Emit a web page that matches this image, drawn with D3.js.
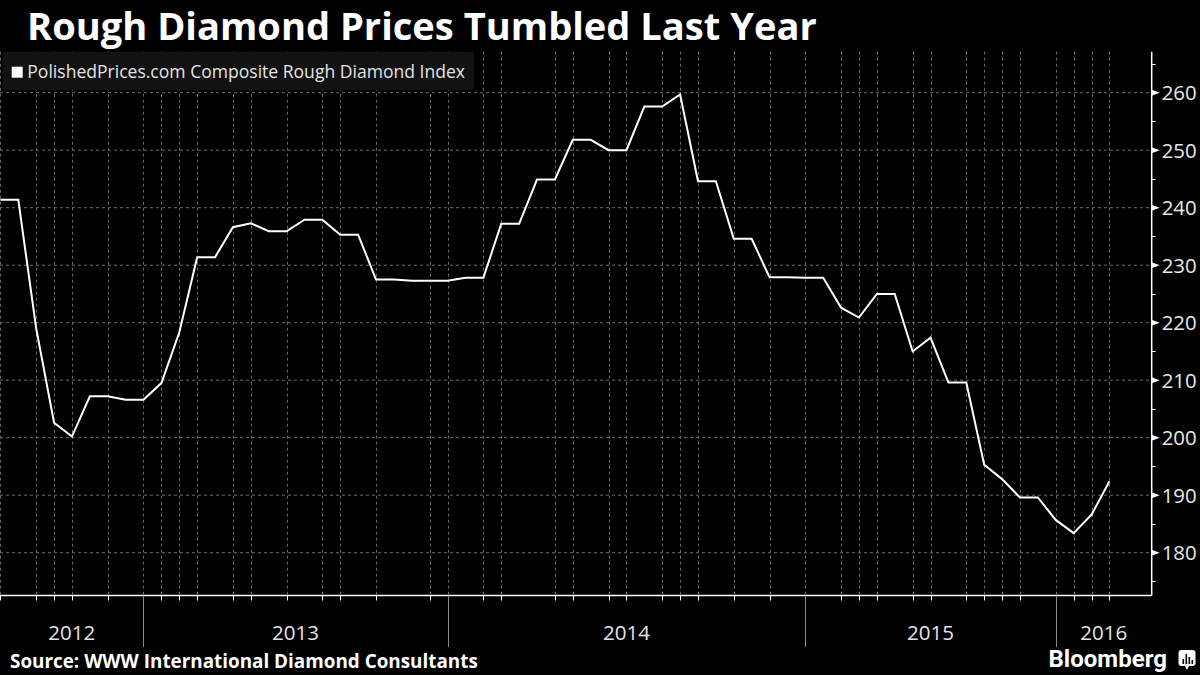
<!DOCTYPE html>
<html>
<head>
<meta charset="utf-8">
<script src="https://cdn.jsdelivr.net/npm/d3@7"></script>
<style>
  html, body { margin: 0; padding: 0; background: #000; }
  svg { display: block; }
</style>
</head>
<body>
<svg id="chart" width="1200" height="675"></svg>
<script>
// ---- Data ----
const indexValues = [
  241.4, 241.4, 219.0, 202.6, 200.2, 207.2, 207.2, 206.6,            // 2012
  206.6, 209.5, 218.3, 231.4, 231.4, 236.6, 237.3, 235.9, 235.9,
  237.9, 237.9, 235.3, 235.3, 227.5, 227.5, 227.3, 227.3,            // 2013
  227.3, 227.8, 227.8, 237.2, 237.2, 244.9, 244.9, 251.8, 251.8,
  250.0, 250.0, 257.6, 257.6, 259.7, 244.6, 244.6, 234.6, 234.6,
  227.9, 227.9,                                                      // 2014
  227.8, 227.8, 222.6, 220.9, 225.0, 225.0, 215.0, 217.4, 209.6,
  209.6, 195.3, 192.8, 189.6, 189.6,                                 // 2015
  185.7, 183.4, 186.6, 192.4                                         // 2016
];
const yearLabels = ["2012", "2013", "2014", "2015", "2016"];
const yearStartIndex = [0, 8, 25, 45, 59];
const monthTickIndex = [0, 2, 3, 4, 6, 8, 9, 10, 11, 13, 14, 16, 18, 19, 21, 24,
  25, 27, 28, 31, 32, 34, 35, 37, 38, 39, 41, 43,
  45, 47, 48, 49, 51, 52, 54, 55, 56, 57, 59, 60, 61, 62];
const yTickValues = [180, 190, 200, 210, 220, 230, 240, 250, 260];
const yMinorValues = [175, 185, 195, 205, 215, 225, 235, 245, 255, 265];
const titleText = "Rough Diamond Prices Tumbled Last Year";
const legendText = "PolishedPrices.com Composite Rough Diamond Index";
const sourceText = "Source: WWW International Diamond Consultants";

// ---- Layout ----
const plot = { left: 0, right: 1151.7, top: 51.7, bottom: 595.5 };
const svg = d3.select("#chart");
svg.append("rect").attr("width", 1200).attr("height", 675).attr("fill", "#000");

const x = d3.scalePoint()
  .domain(d3.range(indexValues.length))
  .range([0.4, 1109.4]);
const y = d3.scaleLinear().domain([180, 260]).range([552.7, 92.7]);

function fit(sel, target) {
  const fs = parseFloat(sel.attr("font-size"));
  const w = sel.node().getComputedTextLength();
  sel.attr("font-size", (fs * target / w).toFixed(2));
  return sel;
}

const sans = "'Open Sans', 'Noto Sans', 'DejaVu Sans', sans-serif";

// ---- Gridlines ----
const grid = svg.append("g");
grid.selectAll("line.h").data(yTickValues).join("line")
  .attr("x1", plot.left).attr("x2", plot.right)
  .attr("y1", d => y(d)).attr("y2", d => y(d))
  .attr("stroke", "#6a6a6a").attr("stroke-width", 1)
  .attr("stroke-dasharray", "3,3");
grid.selectAll("line.v").data(monthTickIndex).join("line")
  .attr("x1", d => Math.round(x(d)) + 0.5).attr("x2", d => Math.round(x(d)) + 0.5)
  .attr("y1", plot.top).attr("y2", plot.bottom)
  .attr("stroke", "#6a6a6a").attr("stroke-width", 1)
  .attr("stroke-dasharray", "3,3");

// ---- Legend ----
const lg = svg.append("g");
lg.append("rect").attr("x", 2.7).attr("y", 51.7).attr("width", 471.3).attr("height", 38.3)
  .attr("rx", 3).attr("fill", "#121212");
lg.append("rect").attr("x", 11.7).attr("y", 66.7).attr("width", 11).attr("height", 11)
  .attr("fill", "#fff");
fit(lg.append("text").attr("x", 27.3).attr("y", 78.3)
  .attr("font-family", sans).attr("font-size", 17).attr("fill", "#e4e4e4")
  .text(legendText), 438);

// ---- Line ----
const line = d3.line().x((d, i) => x(i)).y(d => y(d));
svg.append("path").datum(indexValues)
  .attr("d", line).attr("fill", "none")
  .attr("stroke", "#fff").attr("stroke-width", 2).attr("stroke-linejoin", "miter");

// ---- X axis ----
const xa = svg.append("g");
xa.append("line").attr("x1", plot.left).attr("x2", plot.right)
  .attr("y1", plot.bottom).attr("y2", plot.bottom)
  .attr("stroke", "#fff").attr("stroke-width", 1.5);
xa.selectAll("line.t").data(monthTickIndex).join("line")
  .attr("x1", d => Math.round(x(d)) + 0.5).attr("x2", d => Math.round(x(d)) + 0.5)
  .attr("y1", plot.bottom).attr("y2", plot.bottom + 5)
  .attr("stroke", "#fff").attr("stroke-width", 1);
xa.selectAll("line.sep").data(yearStartIndex.slice(1)).join("line")
  .attr("x1", d => Math.round(x(d)) + 0.5).attr("x2", d => Math.round(x(d)) + 0.5)
  .attr("y1", plot.bottom).attr("y2", 647)
  .attr("stroke", "#8a8a8a").attr("stroke-width", 1);
const yearBounds = yearStartIndex.map((s, i) => {
  const a = i === 0 ? plot.left : x(s);
  const b = i === yearStartIndex.length - 1 ? plot.right : x(yearStartIndex[i + 1]);
  return { label: yearLabels[i], cx: (a + b) / 2 };
});
const yl = xa.selectAll("text.yr").data(yearBounds).join("text")
  .attr("x", d => d.cx).attr("y", 640)
  .attr("text-anchor", "middle")
  .attr("font-family", sans).attr("font-size", 20).attr("fill", "#e4e4e4")
  .text(d => d.label);
{
  const w = yl.nodes()[0].getComputedTextLength();
  yl.attr("font-size", (20 * 47 / w).toFixed(2));
}

// ---- Y axis (right) ----
const ya = svg.append("g");
ya.append("line").attr("x1", plot.right).attr("x2", plot.right)
  .attr("y1", plot.top).attr("y2", plot.bottom)
  .attr("stroke", "#fff").attr("stroke-width", 1.5);
ya.selectAll("line.m").data(yMinorValues.filter(v => y(v) > plot.top && y(v) < plot.bottom)).join("line")
  .attr("x1", plot.right).attr("x2", plot.right + 4)
  .attr("y1", d => Math.round(y(d)) + 0.5).attr("y2", d => Math.round(y(d)) + 0.5)
  .attr("stroke", "#fff").attr("stroke-width", 1);
ya.selectAll("path.tri").data(yTickValues).join("path")
  .attr("d", d => {
    const yy = y(d);
    return `M${plot.right},${yy - 3}L${plot.right + 8},${yy}L${plot.right},${yy + 3}Z`;
  })
  .attr("fill", "#fff");
const ytl = ya.selectAll("text.yl").data(yTickValues).join("text")
  .attr("x", plot.right + 10).attr("y", d => y(d) + 7.5)
  .attr("font-family", sans).attr("font-size", 20).attr("fill", "#e8e8e8")
  .text(d => d3.format("d")(d));
{
  const w = ytl.nodes()[0].getComputedTextLength();
  ytl.attr("font-size", (20 * 35 / w).toFixed(2));
}

// ---- Title ----
fit(svg.append("text").attr("x", 27).attr("y", 40)
  .attr("font-family", sans).attr("font-weight", 700).attr("font-size", 33)
  .attr("fill", "#fff").text(titleText), 790);

// ---- Footer ----
fit(svg.append("text").attr("x", 10).attr("y", 668)
  .attr("font-family", sans).attr("font-weight", 700).attr("font-size", 17)
  .attr("fill", "#fff").text(sourceText), 468);
fit(svg.append("text").attr("x", 1048.5).attr("y", 666.5)
  .attr("font-family", "Roboto, 'Open Sans', sans-serif").attr("font-weight", 700).attr("font-size", 21)
  .attr("fill", "#fff").text("Bloomberg"), 118.6);
const icon = svg.append("g");
icon.append("rect").attr("x", 1178.5).attr("y", 650).attr("width", 17).attr("height", 16)
  .attr("rx", 3).attr("fill", "#fff");
icon.append("path").attr("d", "M1185,666 L1187,670 L1189,666 Z").attr("fill", "#fff");
[[1182.5, 659, 5], [1185.5, 654, 10], [1188.5, 657, 7], [1191.5, 660, 4]].forEach(b => {
  icon.append("rect").attr("x", b[0]).attr("y", b[1]).attr("width", 1.6).attr("height", b[2])
    .attr("fill", "#000");
});
</script>
</body>
</html>
